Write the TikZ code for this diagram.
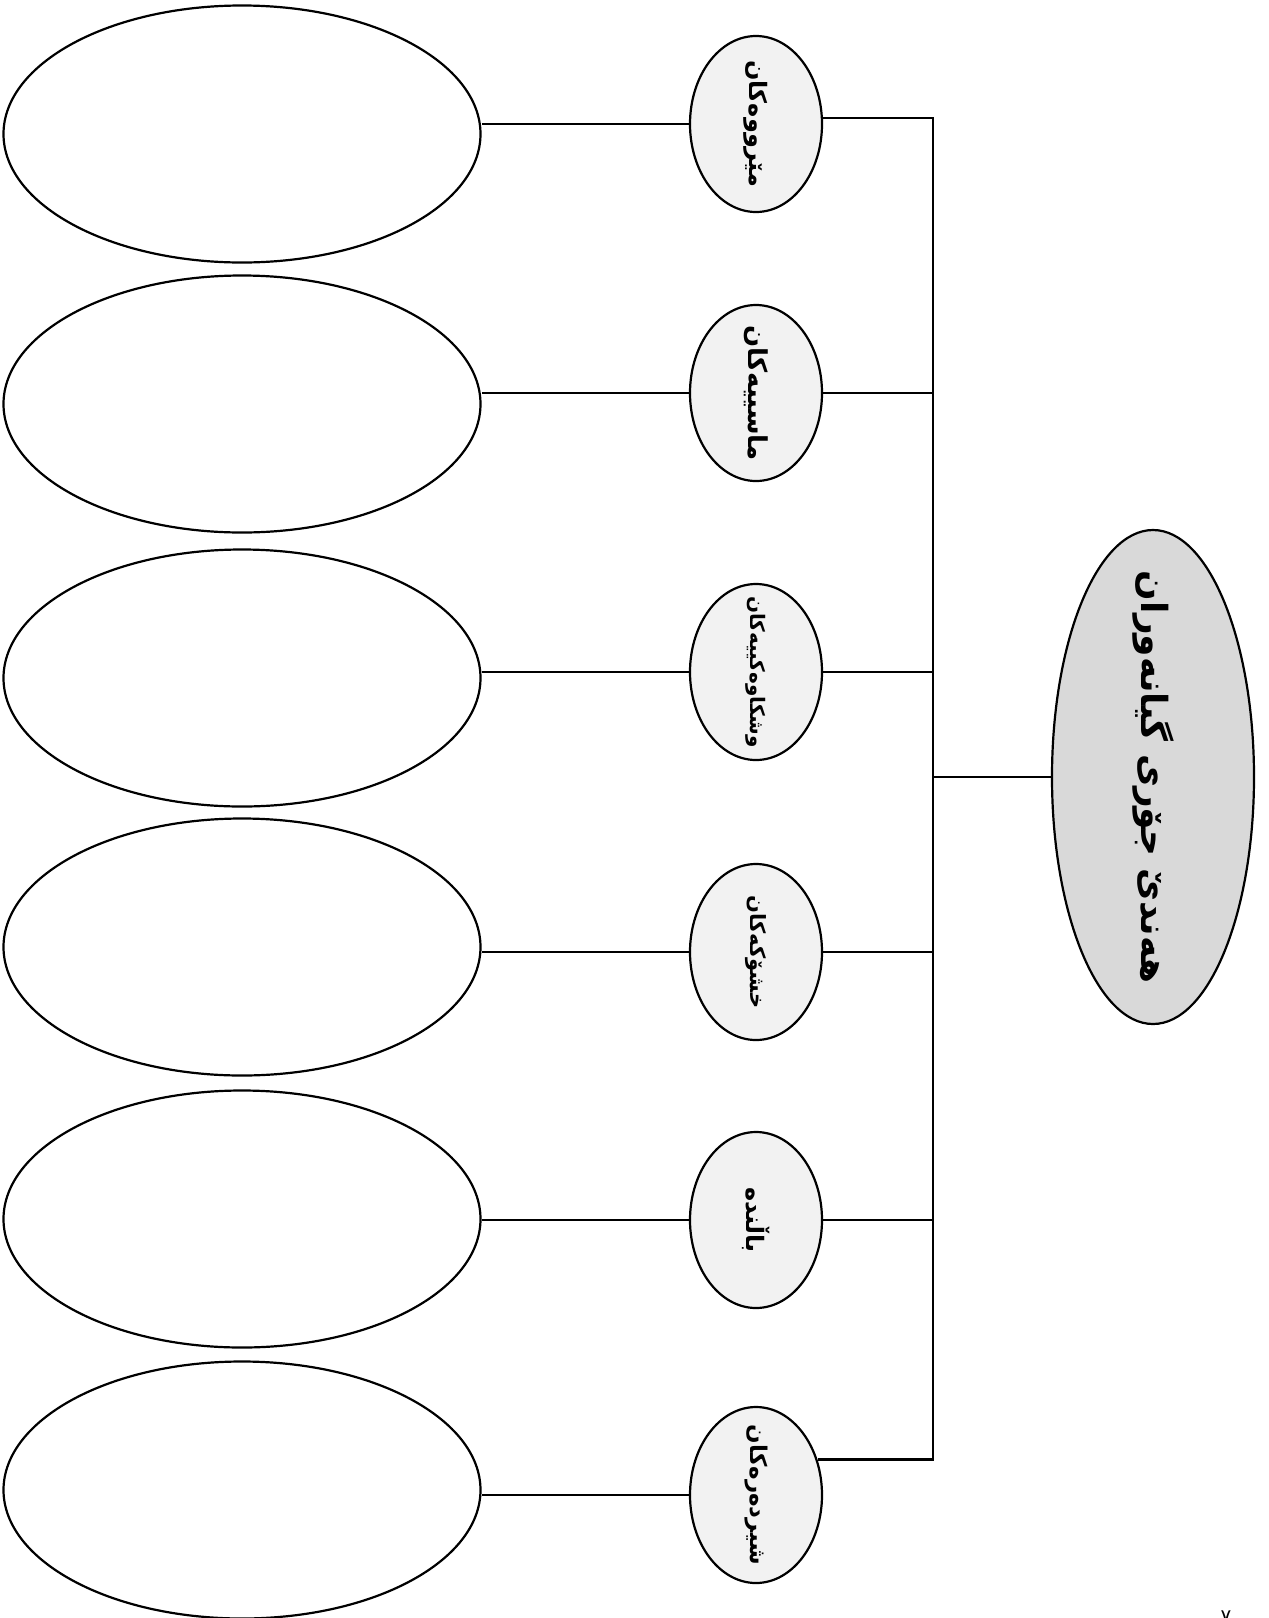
\documentclass[tikz,border=0pt]{standalone}
\usepackage{fontspec}
\newfontfamily\kurdfont[Script=Arabic]{DejaVu Sans}
\TeXXeTstate=1
\usetikzlibrary{shapes.geometric}
\definecolor{lightfill}{HTML}{F2F2F2}
\definecolor{rootfill}{HTML}{D9D9D9}

\begin{document}
\begin{tikzpicture}[x=1pt,y=-1pt,
    bigell/.style={draw, ellipse, line width=2.2pt, inner sep=0pt,
                   minimum width=477pt, minimum height=257pt},
    smallell/.style={draw, ellipse, line width=2.2pt, inner sep=0pt,
                     fill=lightfill, minimum width=132pt, minimum height=176pt},
    rootell/.style={draw, ellipse, line width=2.2pt, inner sep=0pt,
                    fill=rootfill, minimum width=202pt, minimum height=494pt},
    kurd/.style={rotate=-90, inner sep=0pt,
                 font=\kurdfont\bfseries\fontsize{#1}{#1}\selectfont},
    conn/.style={line width=2.6pt}
  ]
    \useasboundingbox (0,0) rectangle (1269,1618);

    % six groups of animals
    \foreach \i/\by/\sy/\fs/\txt in {
        1/134/124/24/مێرووەکان,
        2/404/393/26/ماسییەکان,
        3/678/672/20/وشکاوەکییەکان,
        4/947/952/21/خشۆکەکان,
        5/1219/1220/24/باڵندە,
        6/1490/1495/23/شیردەرەکان}{
      \node[bigell]   (b\i) at (242,\by) {};
      \node[smallell] (s\i) at (756,\sy) {};
      \node[kurd=\fs] (t\i) at (s\i) {\beginR\txt\endR};
      \draw[conn] (s\i.west) -- (s\i.west -| b\i.east);
    }

    % root
    \node[rootell] (root) at (1153,777) {};
    \node[kurd=36] (troot) at (root) {\beginR هەندێ جۆری گیانەوران\endR};

    % bracket
    \coordinate (bus) at (933,0);
    \draw[conn] (s1.5) -| (s6.30 -| bus) -- (s6.30);
    \foreach \i in {2,3,4,5}
      \draw[conn] (s\i.east) -- (s\i.east -| bus);
    \draw[conn] (root.west) -- (root.west -| bus);

    \node[anchor=north, inner sep=0pt, font=\kurdfont\fontsize{20}{20}\selectfont]
      (pagenum) at (1226,1611) {٧};
\end{tikzpicture}
\end{document}
